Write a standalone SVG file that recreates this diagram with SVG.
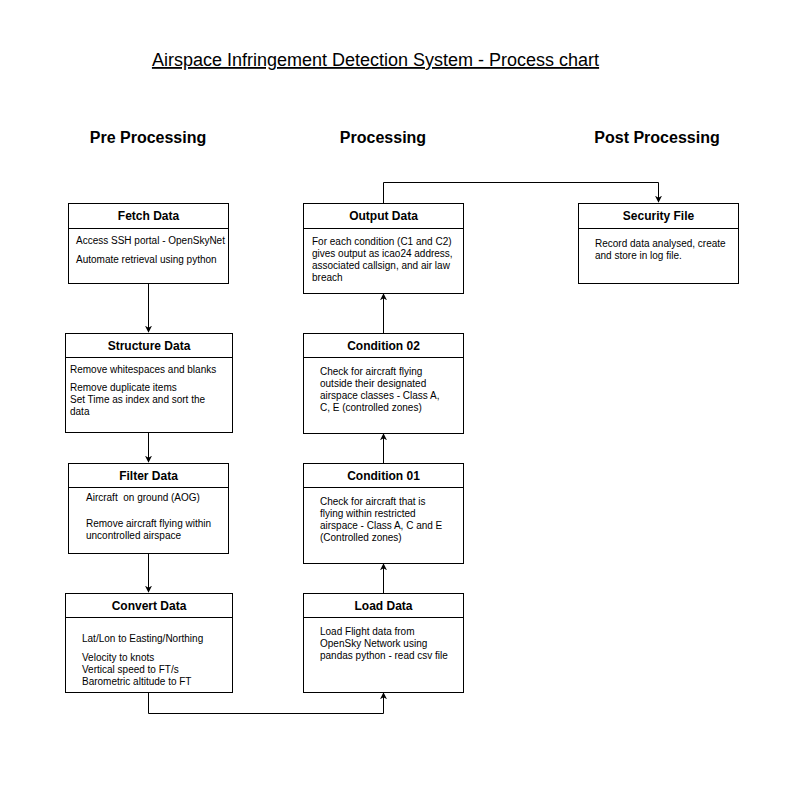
<svg xmlns="http://www.w3.org/2000/svg" width="786" height="790" viewBox="0 0 786 790">
<style>
text{font-family:"Liberation Sans",Arial,Helvetica,sans-serif;fill:#000;white-space:pre}
.box{fill:#fff;stroke:#000;stroke-width:1}
.div{stroke:#000;stroke-width:1}
.h{font-size:12px;font-weight:bold;text-anchor:middle}
.b{font-size:10px}
.sec{font-size:16px;font-weight:bold;text-anchor:middle}
.title{font-size:18px;text-anchor:middle;text-decoration:underline}
.c{fill:none;stroke:#000;stroke-width:1}
</style>
<defs>
<marker id="arr" viewBox="0 0 10 10" refX="9" refY="5" markerWidth="7" markerHeight="7" orient="auto" markerUnits="userSpaceOnUse">
<path d="M0,0 L10,5 L0,10 L3,5 Z" fill="#000"/>
</marker>
</defs>
<rect width="786" height="790" fill="#fff"/>
<text class="title" x="375.5" y="66">Airspace Infringement Detection System - Process chart</text>
<text class="sec" x="148" y="143">Pre Processing</text>
<text class="sec" x="383" y="143">Processing</text>
<text class="sec" x="657" y="143">Post Processing</text>

<g id="connectors">
<path class="c" d="M148.5,283 V332" marker-end="url(#arr)"/>
<path class="c" d="M148.5,432 V462" marker-end="url(#arr)"/>
<path class="c" d="M148.5,553 V592" marker-end="url(#arr)"/>
<path class="c" d="M148.5,692 V713.5 H383.5 V693" marker-end="url(#arr)"/>
<path class="c" d="M383.5,593 V564" marker-end="url(#arr)"/>
<path class="c" d="M383.5,463 V434" marker-end="url(#arr)"/>
<path class="c" d="M383.5,333 V294" marker-end="url(#arr)"/>
<path class="c" d="M383.5,203 V182.5 H658.5 V202" marker-end="url(#arr)"/>
</g>

<g id="fetch">
<rect class="box" x="68.5" y="203.5" width="160" height="80"/>
<line class="div" x1="68.5" y1="228.5" x2="228.5" y2="228.5"/>
<text class="h" x="148.5" y="220">Fetch Data</text>
<text class="b" x="76" y="243.5">Access SSH portal - OpenSkyNet</text>
<text class="b" x="76" y="262.5">Automate retrieval using python</text>
</g>

<g id="structure">
<rect class="box" x="65.5" y="333.5" width="167" height="99"/>
<line class="div" x1="65.5" y1="357.5" x2="232.5" y2="357.5"/>
<text class="h" x="149" y="350">Structure Data</text>
<text class="b" x="70" y="373">Remove whitespaces and blanks</text>
<text class="b" x="70" y="391">Remove duplicate items</text>
<text class="b" x="70" y="403">Set Time as index and sort the</text>
<text class="b" x="70" y="415">data</text>
</g>

<g id="filter">
<rect class="box" x="68.5" y="463.5" width="160" height="90"/>
<line class="div" x1="68.5" y1="487.5" x2="228.5" y2="487.5"/>
<text class="h" x="148.5" y="480">Filter Data</text>
<text class="b" x="86" y="500.5">Aircraft  on ground (AOG)</text>
<text class="b" x="86" y="526.5">Remove aircraft flying within</text>
<text class="b" x="86" y="538.5">uncontrolled airspace</text>
</g>

<g id="convert">
<rect class="box" x="65.5" y="593.5" width="167" height="99"/>
<line class="div" x1="65.5" y1="617.5" x2="232.5" y2="617.5"/>
<text class="h" x="149" y="610">Convert Data</text>
<text class="b" x="82" y="641.5">Lat/Lon to Easting/Northing</text>
<text class="b" x="82" y="660.5">Velocity to knots</text>
<text class="b" x="82" y="672.5">Vertical speed to FT/s</text>
<text class="b" x="82" y="684.5">Barometric altitude to FT</text>
</g>

<g id="output">
<rect class="box" x="303.5" y="203.5" width="160" height="90"/>
<line class="div" x1="303.5" y1="228.5" x2="463.5" y2="228.5"/>
<text class="h" x="383.5" y="220">Output Data</text>
<text class="b" x="312" y="244.5">For each condition (C1 and C2)</text>
<text class="b" x="312" y="256.5">gives output as icao24 address,</text>
<text class="b" x="312" y="268.5">associated callsign, and air law</text>
<text class="b" x="312" y="280.5">breach</text>
</g>

<g id="cond02">
<rect class="box" x="303.5" y="333.5" width="160" height="100"/>
<line class="div" x1="303.5" y1="357.5" x2="463.5" y2="357.5"/>
<text class="h" x="383.5" y="350">Condition 02</text>
<text class="b" x="320" y="374.5">Check for aircraft flying</text>
<text class="b" x="320" y="386.5">outside their designated</text>
<text class="b" x="320" y="398.5">airspace classes - Class A,</text>
<text class="b" x="320" y="410.5">C, E (controlled zones)</text>
</g>

<g id="cond01">
<rect class="box" x="303.5" y="463.5" width="160" height="100"/>
<line class="div" x1="303.5" y1="487.5" x2="463.5" y2="487.5"/>
<text class="h" x="383.5" y="480">Condition 01</text>
<text class="b" x="320" y="504.5">Check for aircraft that is</text>
<text class="b" x="320" y="516.5">flying within restricted</text>
<text class="b" x="320" y="528.5">airspace - Class A, C and E</text>
<text class="b" x="320" y="540.5">(Controlled zones)</text>
</g>

<g id="load">
<rect class="box" x="303.5" y="593.5" width="160" height="99"/>
<line class="div" x1="303.5" y1="617.5" x2="463.5" y2="617.5"/>
<text class="h" x="383.5" y="610">Load Data</text>
<text class="b" x="320" y="634.5">Load Flight data from</text>
<text class="b" x="320" y="646.5">OpenSky Network using</text>
<text class="b" x="320" y="658.5">pandas python - read csv file</text>
</g>

<g id="security">
<rect class="box" x="578.5" y="203.5" width="160" height="80"/>
<line class="div" x1="578.5" y1="228.5" x2="738.5" y2="228.5"/>
<text class="h" x="658.5" y="220">Security File</text>
<text class="b" x="595" y="246.5">Record data analysed, create</text>
<text class="b" x="595" y="258.5">and store in log file.</text>
</g>
</svg>
